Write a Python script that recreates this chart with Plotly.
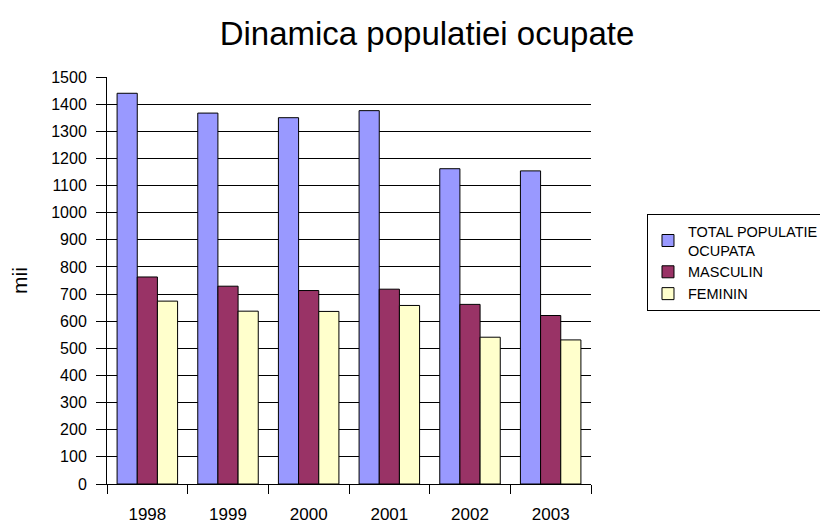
import plotly.graph_objects as go

years = ["1998", "1999", "2000", "2001", "2002", "2003"]
total = [1440, 1367, 1350, 1376, 1162, 1154]
masculin = [763, 729, 713, 718, 662, 621]
feminin = [674, 637, 636, 658, 541, 531]
y_ticks = list(range(0, 1501, 100))

font_family = "Liberation Sans, Arial, sans-serif"

fig = go.Figure()
fig.add_trace(go.Bar(x=years, y=total, name="TOTAL POPULATIE<br>OCUPATA",
                     marker=dict(color="#9999FF", line=dict(color="black", width=1))))
fig.add_trace(go.Bar(x=years, y=masculin, name="MASCULIN",
                     marker=dict(color="#993366", line=dict(color="black", width=1))))
fig.add_trace(go.Bar(x=years, y=feminin, name="FEMININ",
                     marker=dict(color="#FFFFCC", line=dict(color="black", width=1))))

fig.update_layout(
    width=828, height=523,
    paper_bgcolor="white", plot_bgcolor="white",
    font=dict(family=font_family, size=16, color="black"),
    title=dict(text="Dinamica populatiei ocupate", x=0.506, xanchor="center",
               y=0.952, yanchor="middle", font=dict(size=33, family=font_family)),
    margin=dict(l=99, r=245, t=69, b=47, autoexpand=False),
    barmode="group", bargap=0.25, bargroupgap=0,
    xaxis=dict(showline=True, linecolor="black", linewidth=1, ticks="outside",
               tickson="boundaries", ticklen=9, tickcolor="black",
               ticklabelstandoff=15,
               tickfont=dict(size=17), showgrid=False),
    yaxis=dict(range=[0, 1500], tickvals=y_ticks, showline=True, linecolor="black",
               linewidth=1, ticks="outside", ticklen=10, tickcolor="black",
               ticklabelstandoff=6,
               showgrid=True, gridcolor="black", gridwidth=1, zeroline=False,
               tickfont=dict(size=16),
               title=dict(text="mii", font=dict(size=21), standoff=24)),
    legend=dict(x=1.1157, y=0.663, xanchor="left", yanchor="top",
                bordercolor="black", borderwidth=1, font=dict(size=14.5),
                tracegroupgap=4, itemwidth=30),
    showlegend=True,
)

fig.write_html("out.html")
